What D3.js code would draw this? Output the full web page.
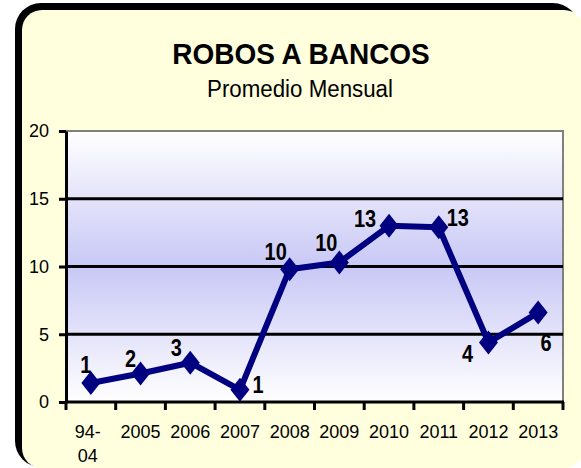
<!DOCTYPE html>
<html>
<head>
<meta charset="utf-8">
<script src="https://cdn.jsdelivr.net/npm/d3@7"></script>
<style>
  html, body { margin: 0; padding: 0; background: #fff; }
  svg { display: block; font-family: "Liberation Sans", Arial, sans-serif; }
</style>
</head>
<body>
<div id="chart"></div>
<script>
// data
var categories = ["94-04", "2005", "2006", "2007", "2008", "2009", "2010", "2011", "2012", "2013"];
var values = [1.4, 2.1, 2.9, 0.9, 9.8, 10.3, 13.0, 12.9, 4.4, 6.6];
var valueLabels = ["1", "2", "3", "1", "10", "10", "13", "13", "4", "6"];
var yTicks = [0, 5, 10, 15, 20];

// where each value label sits relative to its marker (style only)
var labelOffsets = [[-5, -10], [-10, -7], [-14, -7], [18, 3], [-14, -9],
	[-13, -11], [-24, 1], [19, -1], [-21, 20], [8, 38]];

var WIDTH = 581, HEIGHT = 468;
var plot = { left: 66, right: 563, top: 131, bottom: 402 };

var svg = d3.select("#chart").append("svg")
	.attr("width", WIDTH).attr("height", HEIGHT);

var defs = svg.append("defs");
var grad = defs.append("linearGradient")
	.attr("id", "plotFill").attr("x1", 0).attr("y1", 0).attr("x2", 0).attr("y2", 1);
grad.append("stop").attr("offset", "0%").attr("stop-color", "#ffffff");
grad.append("stop").attr("offset", "50%").attr("stop-color", "#c8c8f6");
grad.append("stop").attr("offset", "100%").attr("stop-color", "#ffffff");

// frame
svg.append("rect")
	.attr("x", 15).attr("y", 3).attr("width", 564).attr("height", 464)
	.attr("rx", 26).attr("fill", "#000");
svg.append("rect")
	.attr("x", 22).attr("y", 10).attr("width", 562).attr("height", 458)
	.attr("rx", 20).attr("fill", "#ffffdd");

// titles
svg.append("text")
	.attr("transform", "translate(301,64) scale(1,1.08)")
	.attr("text-anchor", "middle")
	.style("font-size", "28px").style("font-weight", "bold")
	.text("ROBOS A BANCOS");
svg.append("text")
	.attr("transform", "translate(300,97) scale(0.97,1.05)")
	.attr("text-anchor", "middle")
	.style("font-size", "23px")
	.text("Promedio Mensual");

// scales
var x = d3.scaleBand().domain(categories).range([plot.left, plot.right]);
var y = d3.scaleLinear().domain([0, 20]).range([plot.bottom, plot.top]);

// plot area
svg.append("rect")
	.attr("x", plot.left).attr("y", plot.top)
	.attr("width", plot.right - plot.left).attr("height", plot.bottom - plot.top)
	.attr("fill", "url(#plotFill)")
	.attr("stroke", "#808080").attr("stroke-width", 2);

// gridlines
svg.append("g").selectAll("line")
	.data(yTicks.filter(function (d) { return d > 0 && d < 20; }))
	.enter().append("line")
	.attr("x1", plot.left).attr("x2", plot.right)
	.attr("y1", function (d) { return y(d); }).attr("y2", function (d) { return y(d); })
	.attr("stroke", "#000").attr("stroke-width", 3);

// y axis
var yAxisG = svg.append("g")
	.attr("transform", "translate(" + plot.left + ",0)")
	.call(d3.axisLeft(y).tickValues(yTicks).tickSize(7).tickPadding(10).tickSizeOuter(0));
yAxisG.select(".domain").attr("stroke-width", 3);
yAxisG.selectAll(".tick line").attr("stroke-width", 3);
yAxisG.selectAll(".tick text")
	.style("font-size", "18px").style("font-family", "Liberation Sans, Arial, sans-serif")
	.attr("fill", "#000");

// x axis: ticks at category boundaries
var bounds = categories.map(function (c) { return x(c); }).concat([plot.right]);
var xAxisG = svg.append("g");
xAxisG.append("line")
	.attr("x1", plot.left - 1).attr("x2", plot.right + 1)
	.attr("y1", plot.bottom).attr("y2", plot.bottom)
	.attr("stroke", "#000").attr("stroke-width", 3);
xAxisG.selectAll(".xt").data(bounds).enter().append("line")
	.attr("class", "xt")
	.attr("x1", function (d) { return d; }).attr("x2", function (d) { return d; })
	.attr("y1", plot.bottom).attr("y2", plot.bottom + 8)
	.attr("stroke", "#000").attr("stroke-width", 3);

var xLabels = xAxisG.selectAll(".xl").data(categories).enter().append("text")
	.attr("class", "xl")
	.attr("text-anchor", "middle")
	.attr("x", function (d) { return x(d) + x.bandwidth() / 2; })
	.attr("y", 438)
	.style("font-size", "18px");
xLabels.each(function (d) {
	var parts = d.indexOf("-") > 0 ? [d.slice(0, d.indexOf("-") + 1), d.slice(d.indexOf("-") + 1)] : [d];
	var t = d3.select(this);
	parts.forEach(function (p, i) {
		t.append("tspan")
			.attr("x", x(d) + x.bandwidth() / 2 - (parts.length > 1 ? 3 : 0))
			.attr("dy", i === 0 ? 0 : 24)
			.text(p);
	});
});

// line + markers
var cx = function (d, i) { return x(categories[i]) + x.bandwidth() / 2; };
var line = d3.line()
	.x(function (d, i) { return cx(d, i); })
	.y(function (d) { return y(d); });

svg.append("path")
	.datum(values)
	.attr("d", line)
	.attr("fill", "none")
	.attr("stroke", "#000080")
	.attr("stroke-width", 6)
	.attr("stroke-linejoin", "round");

svg.append("g").selectAll("path")
	.data(values)
	.enter().append("path")
	.attr("transform", function (d, i) { return "translate(" + cx(d, i) + "," + y(d) + ")"; })
	.attr("d", "M0,-12L9.5,0L0,12L-9.5,0Z")
	.attr("fill", "#000080");

// value labels (a bit tall and narrow, as in the original)
svg.append("g").selectAll("text")
	.data(values)
	.enter().append("text")
	.attr("text-anchor", "middle")
	.attr("transform", function (d, i) {
		return "translate(" + (cx(d, i) + labelOffsets[i][0]) + "," + (y(d) + labelOffsets[i][1]) + ") scale(0.95,1.15)";
	})
	.style("font-size", "21px").style("font-weight", "bold")
	.text(function (d, i) { return valueLabels[i]; });
</script>
</body>
</html>
